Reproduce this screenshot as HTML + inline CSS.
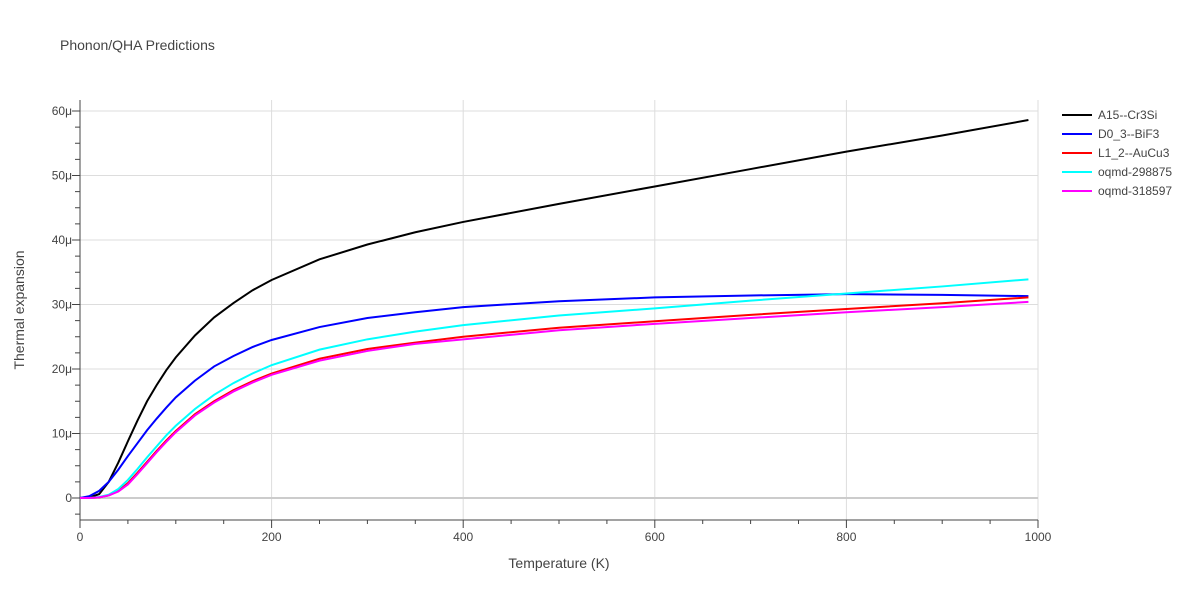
<!DOCTYPE html>
<html><head><meta charset="utf-8"><style>
body{margin:0;background:#fff;font-family:"Liberation Sans",sans-serif}
svg text{font-family:"Liberation Sans",sans-serif;fill:#444}
</style></head><body>
<svg id="c" width="1200" height="600"></svg>
<script>
const temps=[0,10,20,30,40,50,60,70,80,90,100,120,140,160,180,200,250,300,350,400,500,600,700,800,900,990];
const sA15=[0,0.1,0.6,2.5,5.5,8.8,12,15,17.5,19.8,21.8,25.2,28,30.2,32.2,33.8,37,39.3,41.2,42.8,45.6,48.3,51,53.7,56.2,58.6];
const sD0=[0,0.3,1.1,2.5,4.4,6.5,8.5,10.5,12.3,14,15.6,18.2,20.4,22,23.4,24.5,26.5,27.9,28.8,29.6,30.5,31.1,31.4,31.6,31.5,31.3];
const sL12=[0,0,0.1,0.4,1.1,2.3,3.9,5.6,7.3,8.9,10.4,13,15,16.7,18.1,19.3,21.6,23.1,24.1,25,26.4,27.4,28.4,29.3,30.2,31.1];
const sQ1=[0,0,0.15,0.5,1.4,2.8,4.5,6.3,8,9.7,11.2,13.8,16,17.8,19.3,20.6,23,24.6,25.8,26.8,28.3,29.4,30.6,31.7,32.8,33.9];
const sQ2=[0,0,0.1,0.4,1.0,2.1,3.7,5.4,7.1,8.7,10.2,12.8,14.8,16.5,17.9,19.1,21.3,22.8,23.9,24.6,26.0,27.0,27.9,28.8,29.6,30.4];
const names=["A15--Cr3Si","D0_3--BiF3","L1_2--AuCu3","oqmd-298875","oqmd-318597"];
const colors=["#000","#00f","#f00","#0ff","#f0f"];
const xTicks=[0,200,400,600,800,1000];
const yTicks=[0,10,20,30,40,50,60];
const yLabels=["0","10μ","20μ","30μ","40μ","50μ","60μ"];
const NS="http://www.w3.org/2000/svg",svg=document.getElementById('c');
const X=v=>80+v*0.958, Y=v=>498-v*6.45;
function mk(t,a,p){const e=document.createElementNS(NS,t);for(const k in a)e.setAttribute(k,a[k]);(p||svg).appendChild(e);return e;}
let t=mk('text',{x:60,y:50,'font-size':14});t.textContent="Phonon/QHA Predictions";


xTicks.forEach(v=>{let l=mk('line',{x1:X(v),x2:X(v),y1:100,y2:520,stroke:'#ddd'});


let tx=mk('text',{x:X(v),y:541,'text-anchor':'middle','font-size':12});tx.textContent=v;

});
yTicks.forEach((v,i)=>{let l=mk('line',{x1:80,x2:1038,y1:Y(v),y2:Y(v),stroke:v===0?'#ccc':'#ddd','stroke-width':v===0?2:1});


let tx=mk('text',{x:72,y:Y(v)+4,'text-anchor':'end','font-size':12});tx.textContent=yLabels[i];

});
for(let v=0;v<=1000;v+=50){let l=mk('line',{x1:X(v),x2:X(v),y1:520,y2:v%200?524:528,stroke:'#444'});

}
for(let v=-2.5;v<=60;v+=2.5){let l=mk('line',{x1:v%10?75:72,x2:80,y1:Y(v),y2:Y(v),stroke:'#444'});

}
let ax=mk('line',{x1:80,x2:80,y1:100,y2:520,stroke:'#444'});


let ax2=mk('line',{x1:80,x2:1038,y1:520,y2:520,stroke:'#444'});


t=mk('text',{x:559,y:568,'text-anchor':'middle','font-size':14});t.textContent="Temperature (K)";


t=mk('text',{x:24,y:310,'text-anchor':'middle','font-size':14,transform:'rotate(-90 24 310)'});t.textContent="Thermal expansion";


[sA15,sD0,sL12,sQ1,sQ2].forEach((s,i)=>{
 let p=mk('polyline',{points:s.map((v,j)=>X(temps[j])+','+Y(v)).join(' '),fill:'none',stroke:colors[i],'stroke-width':2});
 
 
 let g=mk('g',{});
 
 
 let y=115+i*19;
 mk('line',{x1:1062,x2:1092,y1:y,y2:y,stroke:colors[i],'stroke-width':2},g);
 let tx=mk('text',{x:1098,y:y+4,'font-size':12},g);tx.textContent=names[i];
});
</script>
</body></html>
